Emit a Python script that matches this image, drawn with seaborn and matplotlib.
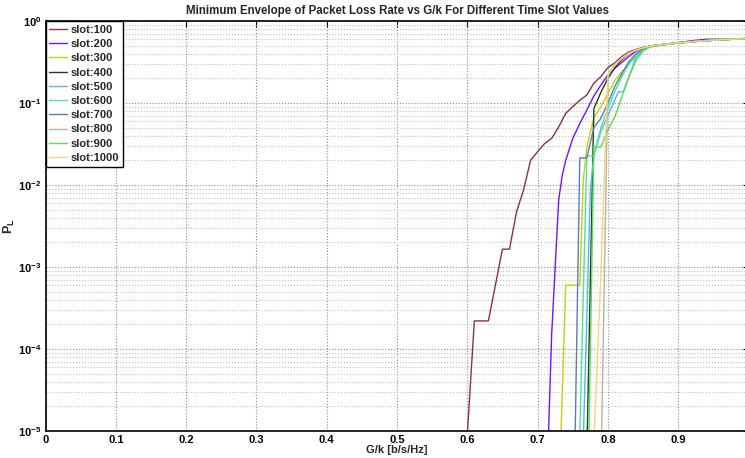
import numpy as np
import pandas as pd
import matplotlib
matplotlib.use("Agg")
import matplotlib.pyplot as plt
import seaborn as sns
from matplotlib.ticker import LogLocator, NullFormatter

# Werte (G/k, P_L) pro Zeitschlitz
slots = ["slot:100", "slot:200", "slot:300", "slot:400", "slot:500",
         "slot:600", "slot:700", "slot:800", "slot:900", "slot:1000"]
colors = ["#8E2E4E", "#6E14FF", "#CCCC11", "#1F3F1F", "#55B5EE",
          "#44E899", "#5B7DB5", "#B5B5A5", "#55E055", "#FFD36E"]

tail_x = [0.86, 0.88, 0.90, 0.92, 0.94, 0.96, 0.98, 1.00]

x100 = [0.600, 0.610, 0.630, 0.650, 0.660, 0.670, 0.680, 0.690, 0.700, 0.710,
        0.720, 0.730, 0.740, 0.750, 0.760, 0.770, 0.780, 0.790, 0.800, 0.810,
        0.820, 0.830, 0.840, 0.850] + tail_x
y100 = [9e-6, 2.2e-4, 2.2e-4, 1.65e-3, 1.65e-3, 4.7e-3, 8.7e-3, 0.020, 0.0255, 0.032,
        0.037, 0.051, 0.075, 0.090, 0.108, 0.125, 0.174, 0.21, 0.27, 0.31,
        0.37, 0.42, 0.45, 0.475, 0.495, 0.52, 0.54, 0.56, 0.575, 0.59, 0.60, 0.612]

x200 = [0.710, 0.720, 0.730, 0.735, 0.740, 0.750, 0.760, 0.770, 0.780, 0.790,
        0.800, 0.810, 0.820, 0.830, 0.840, 0.850] + tail_x
y200 = [3e-7, 1.5e-4, 6.6e-3, 0.013, 0.020, 0.037, 0.056, 0.082, 0.122, 0.165,
        0.22, 0.265, 0.315, 0.37, 0.43, 0.47, 0.495, 0.52, 0.545, 0.575, 0.6, 0.6, 0.605, 0.612]

x300 = [0.730, 0.740, 0.760, 0.765, 0.770, 0.780, 0.790, 0.800, 0.810, 0.820,
        0.830, 0.840, 0.850] + tail_x
y300 = [1.3e-6, 6e-4, 6e-4, 0.0115, 0.029, 0.066, 0.09, 0.13, 0.19, 0.24,
        0.30, 0.37, 0.44, 0.48, 0.515, 0.54, 0.56, 0.575, 0.59, 0.60, 0.612]

x400 = [0.770, 0.780, 0.790, 0.800, 0.810, 0.820, 0.830, 0.840, 0.850] + tail_x
y400 = [5e-6, 0.085, 0.135, 0.20, 0.27, 0.34, 0.40, 0.44, 0.47,
        0.495, 0.52, 0.54, 0.56, 0.575, 0.59, 0.60, 0.61]

x500 = [0.760, 0.770, 0.775, 0.780, 0.790, 0.800, 0.810, 0.815, 0.822, 0.830,
        0.840, 0.850] + tail_x
y500 = [2.7e-7, 2.4e-4, 8.6e-3, 0.023, 0.045, 0.07, 0.11, 0.137, 0.137, 0.21,
        0.36, 0.45, 0.49, 0.515, 0.54, 0.56, 0.575, 0.59, 0.60, 0.612]

x600 = [0.760, 0.770, 0.780, 0.790, 0.800, 0.810, 0.820, 0.830, 0.840, 0.850] + tail_x
y600 = [9e-6, 0.0226, 0.0226, 0.05, 0.085, 0.14, 0.21, 0.30, 0.38, 0.45,
        0.49, 0.515, 0.54, 0.56, 0.58, 0.595, 0.605, 0.615]

x700 = [0.750, 0.760, 0.770, 0.780, 0.790, 0.800, 0.810, 0.820, 0.830, 0.840, 0.850] + tail_x
y700 = [1.6e-7, 0.0214, 0.0214, 0.05, 0.065, 0.10, 0.16, 0.23, 0.32, 0.40, 0.46,
        0.49, 0.515, 0.54, 0.56, 0.575, 0.59, 0.60, 0.61]

x800 = [0.790, 0.800, 0.810, 0.820, 0.830, 0.840, 0.850] + tail_x
y800 = [2.8e-6, 0.22, 0.30, 0.355, 0.41, 0.445, 0.47,
        0.495, 0.52, 0.54, 0.56, 0.575, 0.59, 0.60, 0.612]

x900 = [0.770, 0.780, 0.790, 0.800, 0.810, 0.820, 0.830, 0.840, 0.850] + tail_x
y900 = [2.6e-7, 0.029, 0.029, 0.047, 0.068, 0.12, 0.21, 0.33, 0.43,
        0.49, 0.515, 0.54, 0.56, 0.58, 0.595, 0.605, 0.618]

x1000 = [0.780, 0.790, 0.800, 0.810, 0.820, 0.830, 0.840, 0.850] + tail_x
y1000 = [7e-6, 8e-4, 0.22, 0.29, 0.35, 0.40, 0.44, 0.47,
         0.495, 0.52, 0.54, 0.56, 0.575, 0.59, 0.60, 0.612]

xs = [x100, x200, x300, x400, x500, x600, x700, x800, x900, x1000]
ys = [y100, y200, y300, y400, y500, y600, y700, y800, y900, y1000]

xtick_vals = [0, 0.1, 0.2, 0.3, 0.4, 0.5, 0.6, 0.7, 0.8, 0.9]
xtick_labels = ["0", "0.1", "0.2", "0.3", "0.4", "0.5", "0.6", "0.7", "0.8", "0.9"]

frames = [pd.DataFrame({"gk": x, "pl": y, "slot": s}) for s, x, y in zip(slots, xs, ys)]
df = pd.concat(frames, ignore_index=True)

sns.set_theme(style="white")
plt.rcParams.update({
    "font.family": ["Liberation Sans", "DejaVu Sans"],
    "font.weight": "bold",
    "mathtext.fontset": "custom",
    "mathtext.rm": "Liberation Sans:bold",
    "mathtext.bf": "Liberation Sans:bold",
    "mathtext.it": "Liberation Sans:bold",
    "mathtext.default": "bf",
})

fig = plt.figure(figsize=(7.45, 4.58), dpi=100)
ax = fig.add_axes([45.5 / 745, 27 / 458, 703 / 745, 410 / 458])
ax.set_yscale("log")

sns.lineplot(data=df, x="gk", y="pl", hue="slot", hue_order=slots,
             palette=dict(zip(slots, colors)), estimator=None, sort=False,
             linewidth=1.0, ax=ax)

ax.set_xlim(0, 1)
ax.set_ylim(1e-5, 1)
ax.set_xticks(xtick_vals)
ax.set_xticklabels(xtick_labels)
ax.yaxis.set_major_locator(LogLocator(base=10, numticks=10))
ax.yaxis.set_minor_locator(LogLocator(base=10, subs=np.arange(2, 10), numticks=10))
ax.yaxis.set_minor_formatter(NullFormatter())

ax.grid(True, which="major", axis="both", linestyle=":", color="#8c8c8c", linewidth=0.8)
ax.grid(True, which="minor", axis="y", linestyle=":", color="#c0c0c0", linewidth=0.8)
ax.tick_params(which="both", direction="in", top=True, right=True, labelsize=8,
               colors="black", pad=3)
ax.tick_params(which="major", length=4, width=0.8)
ax.tick_params(which="minor", length=2, width=0.6)
for sp in ax.spines.values():
    sp.set_color("black")
    sp.set_linewidth(1.2)

ax.set_title("Minimum Envelope of Packet Loss Rate vs G/k For Different Time Slot Values",
             fontsize=8.3, fontweight="bold", pad=5)
ax.set_xlabel("G/k [b/s/Hz]", fontsize=8, fontweight="bold", labelpad=0)
ax.set_ylabel(r"$\mathbf{P_L}$", fontsize=9)
ax.yaxis.set_label_coords(-0.041, 0.5)

handles, labels = ax.get_legend_handles_labels()
leg = ax.legend(handles, labels, loc="upper left", fontsize=8, frameon=True,
                fancybox=False, edgecolor="black", framealpha=1,
                borderaxespad=0, handlelength=1.6, handletextpad=0.3,
                labelspacing=0.38, borderpad=0.35)
leg.get_frame().set_linewidth(1.0)
for t in leg.get_texts():
    t.set_fontweight("bold")

fig.savefig("out.png", dpi=100)
